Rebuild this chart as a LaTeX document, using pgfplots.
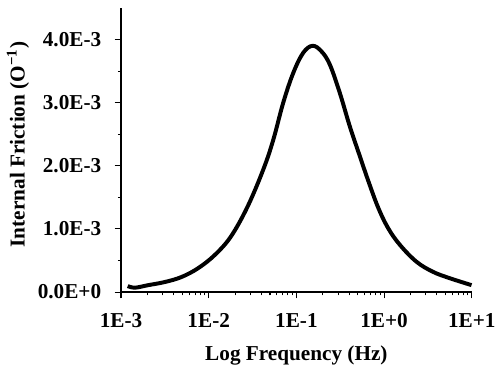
\documentclass[border=0pt]{standalone}
\usepackage{fontspec}
\setmainfont{Liberation Serif}
\usepackage{pgfplots}
\pgfplotsset{compat=1.18}
\begin{document}
\begin{tikzpicture}
\useasboundingbox (-67.3pt,-43.4pt) rectangle (210.7pt,162.4pt);
\begin{axis}[
  at={(0,0)}, anchor=south west,
  scale only axis,
  width=195pt, height=158pt,
  xmode=log,
  xmin=1e-3, xmax=10,
  ymin=0, ymax=4.5,
  axis x line*=bottom, axis y line*=left,
  axis line style={line width=0.8pt},
  every tick/.style={black, line width=0.6pt},
  tick align=outside,
  major tick length=3.5pt,
  minor tick length=1.8pt,
  xtick={1e-3,1e-2,1e-1,1,10},
  xticklabels={1E-3,1E-2,1E-1,1E+0,1E+1},
  minor xtick={2e-3,3e-3,4e-3,5e-3,6e-3,7e-3,8e-3,9e-3,
               2e-2,3e-2,4e-2,5e-2,6e-2,7e-2,8e-2,9e-2,
               0.2,0.3,0.4,0.5,0.6,0.7,0.8,0.9,
               2,3,4,5,6,7,8,9},
  ytick={0,1,2,3,4},
  yticklabels={0.0E+0,1.0E-3,2.0E-3,3.0E-3,4.0E-3},
  minor ytick={0.5,1.5,2.5,3.5},
  ticklabel style={font=\fontsize{11.8}{14}\selectfont\bfseries},
  label style={font=\fontsize{11.8}{14}\selectfont\bfseries},
  xticklabel style={yshift=-5pt},
  yticklabel style={xshift=-4pt},
  xlabel={Log Frequency (Hz)},
  ylabel={Internal Friction (O\textsuperscript{−1})},
  xlabel style={yshift=-3pt},
  ylabel style={yshift=-2pt, xshift=3pt},
  clip=false,
]
\addplot[black, line width=2.2pt, smooth, tension=0.6] coordinates {
(1.191e-3,0.095)
(1.445e-3,0.07)
(2.046e-3,0.11)
(3.170e-3,0.16)
(4.920e-3,0.24)
(7.603e-3,0.38)
(1.178e-2,0.59)
(1.791e-2,0.88)
(2.767e-2,1.35)
(4.188e-2,1.94)
(5.445e-2,2.41)
(7.079e-2,3.00)
(9.204e-2,3.47)
(0.1197,3.79)
(0.1531,3.90)
(0.1936,3.81)
(0.2410,3.60)
(0.3133,3.15)
(0.4074,2.62)
(0.5297,2.15)
(0.6531,1.78)
(0.8492,1.35)
(1.104,1.02)
(1.510,0.75)
(2.344,0.48)
(3.622,0.32)
(5.610,0.22)
(9.931,0.11)
};
\end{axis}
\end{tikzpicture}
\end{document}
